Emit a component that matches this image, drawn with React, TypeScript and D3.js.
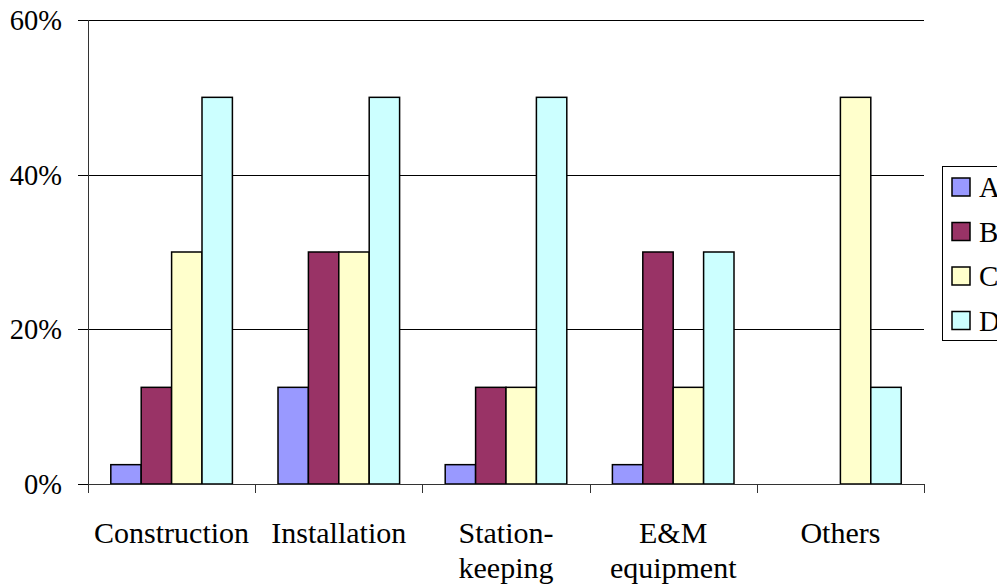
import React from "react";
import * as d3 from "d3";

const categories: string[][] = [
  ["Construction"],
  ["Installation"],
  ["Station-", "keeping"],
  ["E&M", "equipment"],
  ["Others"],
];
const seriesNames = ["A", "B", "C", "D"];
const seriesA = [2.5, 12.5, 2.5, 2.5, 0];
const seriesB = [12.5, 30, 12.5, 30, 0];
const seriesC = [30, 30, 12.5, 12.5, 50];
const seriesD = [50, 50, 50, 30, 12.5];
const seriesColors = ["#9999FF", "#993366", "#FFFFCC", "#CCFFFF"];
const yTicks = [0, 20, 40, 60];

const W = 997;
const H = 587;
const FONT = "Liberation Serif, Times New Roman, serif";

export default function App() {
  const series = [seriesA, seriesB, seriesC, seriesD];
  const left = 88;
  const right = 924;
  const top = 20;
  const bottom = 484;

  const x = d3
    .scaleBand<number>()
    .domain(categories.map((_, i) => i))
    .range([left, right]);
  const y = d3.scaleLinear().domain([0, 60]).range([bottom, top]);

  const band = x.bandwidth();
  const barW = band / 5.5;
  const groupOffset = (band - barW * 4) / 2;

  return (
    <svg
      width={W}
      height={H}
      style={{ position: "absolute", left: 0, top: 0, background: "#fff", fontFamily: FONT }}
    >
      {/* horizontal gridlines */}
      {yTicks
        .filter((t) => t > 0)
        .map((t) => (
          <line
            key={"g" + t}
            x1={left}
            x2={right}
            y1={Math.round(y(t)) + 0.5}
            y2={Math.round(y(t)) + 0.5}
            stroke="#000"
          />
        ))}

      {/* grouped bars */}
      {categories.map((_, ci) =>
        series.map((s, si) => {
          const v = s[ci];
          if (v <= 0) return null;
          const bx = (x(ci) as number) + groupOffset + si * barW;
          return (
            <rect
              key={`b${ci}-${si}`}
              x={bx}
              y={y(v)}
              width={barW}
              height={bottom - y(v)}
              fill={seriesColors[si]}
              stroke="#000"
              strokeWidth={1.5}
            />
          );
        })
      )}

      {/* value axis */}
      <line x1={left + 0.5} x2={left + 0.5} y1={top} y2={bottom} stroke="#333" />
      {yTicks.map((t) => (
        <g key={"yt" + t}>
          <line
            x1={left - 10}
            x2={left}
            y1={Math.round(y(t)) + 0.5}
            y2={Math.round(y(t)) + 0.5}
            stroke="#000"
          />
          <text x={62} y={y(t)} dy="0.35em" textAnchor="end" fontSize={28.5} fill="#000">
            {t}%
          </text>
        </g>
      ))}

      {/* category axis */}
      <line x1={left} x2={right} y1={bottom + 0.5} y2={bottom + 0.5} stroke="#333" />
      {d3.range(categories.length + 1).map((i) => {
        const tx = Math.round(left + i * band) + 0.5;
        return <line key={"xt" + i} x1={tx} x2={tx} y1={bottom} y2={bottom + 9} stroke="#333" />;
      })}
      {categories.map((lines, ci) => (
        <text
          key={"xl" + ci}
          x={(x(ci) as number) + band / 2}
          y={543}
          textAnchor="middle"
          fontSize={30}
          fill="#000"
        >
          {lines.map((ln, li) => (
            <tspan key={li} x={(x(ci) as number) + band / 2} dy={li === 0 ? 0 : 35}>
              {ln}
            </tspan>
          ))}
        </text>
      ))}

      {/* legend */}
      <rect x={942.5} y={166.5} width={80} height={174} fill="#fff" stroke="#000" />
      {seriesNames.map((name, i) => {
        const cy = 187 + i * 44.5;
        return (
          <g key={"lg" + name}>
            <rect
              x={952}
              y={cy - 9}
              width={18}
              height={18}
              fill={seriesColors[i]}
              stroke="#000"
              strokeWidth={1.5}
            />
            <text x={979} y={cy} dy="0.35em" fontSize={29} fill="#000">
              {name}
            </text>
          </g>
        );
      })}
    </svg>
  );
}
